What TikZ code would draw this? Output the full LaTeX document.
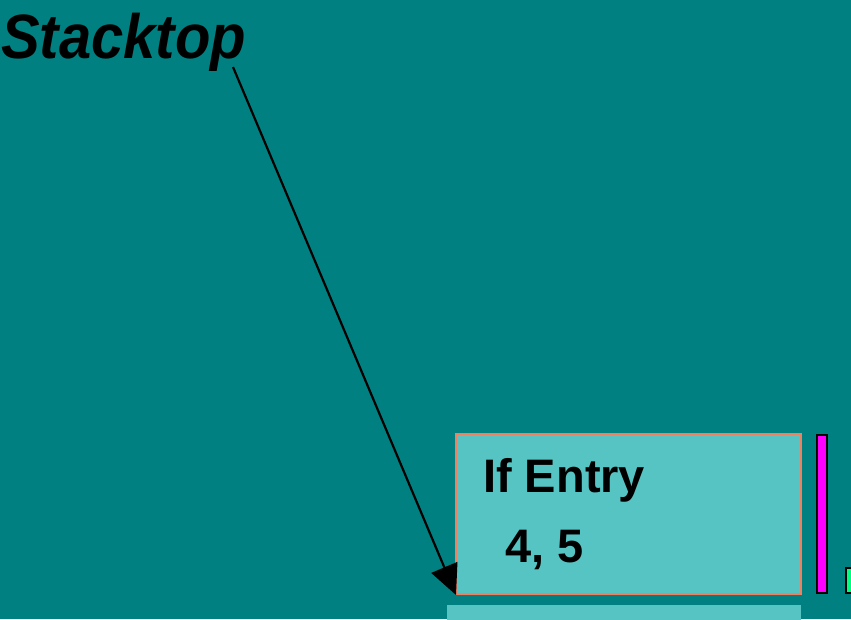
\documentclass[tikz,border=0pt]{standalone}
\usepackage{fontspec}
\setmainfont{Liberation Sans}
\usetikzlibrary{arrows.meta}
\definecolor{bgteal}{RGB}{0,128,128}
\definecolor{boxfill}{RGB}{85,196,194}
\definecolor{boxedge}{RGB}{240,128,96}
\definecolor{barmag}{RGB}{255,0,255}
\definecolor{bargreen}{RGB}{0,255,128}
\tikzset{
  frame/.style={draw=boxedge, fill=boxfill, line width=2pt},
  bar/.style={draw=black, line width=2pt},
  label/.style={inner sep=0pt, anchor=base west, font=\fontsize{47}{50}\selectfont\bfseries},
  pointer/.style={draw=black, line width=2.2pt, -{Triangle[length=30pt,width=28pt]}}
}
\begin{document}
\begin{tikzpicture}[x=1pt,y=-1pt]
  % page and background
  \fill[bgteal] (0,0) rectangle (851,619);
  \useasboundingbox (0,0) rectangle (851,619);
  % stack frame for the if entry
  \draw[frame] (456,434) rectangle (801,594);
  \coordinate (frameSW) at (456,595);
  \node[label] (ifentry) at (483,492) {If Entry};
  \node[label] (nums) at (505,562) {4, 5};
  % next frame below, cut by the page edge
  \fill[boxfill] (447,605) rectangle (801,625);
  % side bars
  \draw[bar, fill=barmag] (817,435) rectangle (827,593);
  \draw[bar, fill=bargreen] (846,568) rectangle (860,593);
  % stack top label and pointer
  \node[inner sep=0pt, anchor=base west, font=\fontsize{58}{62}\selectfont\bfseries\itshape] (stacktop) at (1,58) {\scalebox{1}[1.08]{Stacktop}};
  \coordinate (ptrstart) at (233,67);
  \draw[pointer] (ptrstart) -- (frameSW);
\end{tikzpicture}
\end{document}
